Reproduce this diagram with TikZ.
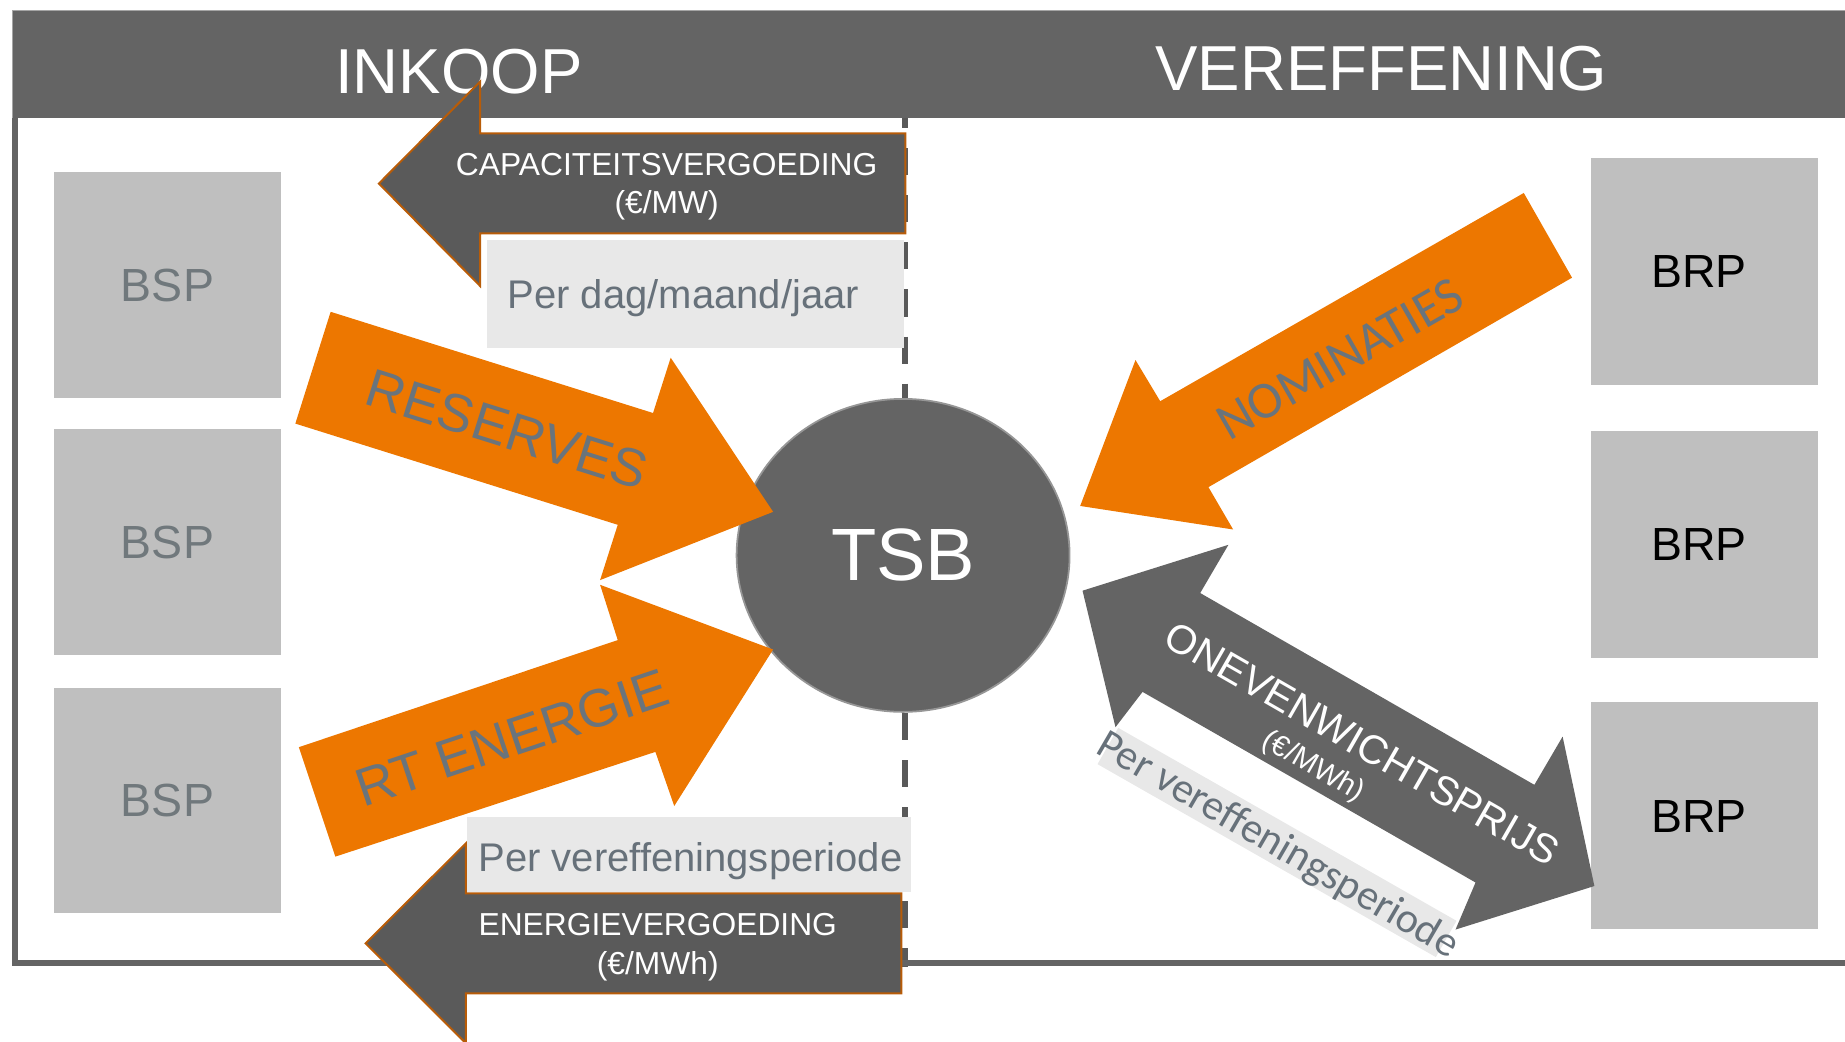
\documentclass[tikz,border=0pt]{standalone}
\usepackage{fontspec}
\setmainfont{Liberation Sans}
\newfontfamily\calibrifont{Carlito}
\usetikzlibrary{shapes.geometric}

\definecolor{hdrgray}{RGB}{100,100,100}
\definecolor{hdredge}{RGB}{165,165,165}
\definecolor{dashgray}{RGB}{89,89,89}
\definecolor{boxgray}{RGB}{191,191,191}
\definecolor{bsptext}{RGB}{112,120,124}
\definecolor{lblfill}{RGB}{232,232,232}
\definecolor{lbltext}{RGB}{103,113,122}
\definecolor{flowtext}{RGB}{106,116,124}
\definecolor{orangeA}{RGB}{237,119,0}
\definecolor{darkarrow}{RGB}{90,90,90}
\definecolor{rustedge}{RGB}{184,92,8}
\definecolor{ringgray}{RGB}{150,150,150}

\begin{document}
\begin{tikzpicture}[x=1pt,y=-1pt,
  txt/.style={inner sep=0pt, outer sep=0pt},
  hdrtxt/.style={txt, text=white, font=\fontsize{54}{60}\selectfont, anchor=base},
  bspbox/.style={fill=boxgray, minimum width=192.9pt, minimum height=192pt, inner sep=0pt,
                 text=bsptext, font=\fontsize{39.5}{44}\selectfont},
  brpbox/.style={fill=boxgray, minimum width=192.7pt, minimum height=193pt, inner sep=0pt},
  brptxt/.style={txt, text=black, font=\fontsize{39.5}{44}\selectfont},
  lblbox/.style={fill=lblfill, inner sep=0pt},
  lbltxt/.style={txt, text=lbltext, font=\fontsize{34}{39}\selectfont, anchor=base west},
  orangearrow/.style={fill=orangeA},
  payarrow/.style={fill=darkarrow, draw=rustedge, line width=1.7pt, line join=miter},
  paytxt/.style={txt, text=white, align=center, font=\fontsize{27}{32.5}\selectfont},
  flowtxt/.style={txt, text=flowtext, font=\fontsize{45.5}{50}\selectfont},
]
\useasboundingbox (0,0) rectangle (1568,885);
\clip (0,0) rectangle (1568,885);

% dashed divider between the two halves
\draw[dashgray, line width=5.5pt, dash pattern=on 23pt off 17pt] (769,86) -- (769,822);

% header bar and frame
\fill[hdrgray] (10.2,8.5) rectangle (1568,100.3);
\draw[hdredge, line width=1pt] (10.7,100) -- (10.7,9) -- (1568,9);
\draw[hdrgray, line width=5.3pt] (12.75,100) -- (12.75,818.2) -- (1568,818.2);
\node[hdrtxt] (inkoop) at (390,79.3) {INKOOP};
\node[hdrtxt] (vereff) at (1174,76.5) {VEREFFENING};

% service providers (left) and responsible parties (right)
\node[bspbox] (bsp1) at (142.35,242.45) {BSP};
\node[bspbox] (bsp2) at (142.35,460.8) {BSP};
\node[bspbox] (bsp3) at (142.35,680.3) {BSP};
\node[brpbox] (brp1) at (1448.35,230.5) {};
\node[brpbox] (brp2) at (1448.35,462.5) {};
\node[brpbox] (brp3) at (1448.35,693) {};
\node[brptxt] (brp1t) at (1444,230.9) {BRP};
\node[brptxt] (brp2t) at (1444,462.5) {BRP};
\node[brptxt] (brp3t) at (1444,694) {BRP};

% period labels
\node[lblbox, minimum width=354pt, minimum height=92pt] (perbox1) at (591,250) {};
\node[lbltxt] (pertxt1) at (431.4,262) {Per dag/maand/jaar};
\node[lblbox, minimum width=377pt, minimum height=64pt] (perbox2) at (585.5,726) {};
\node[lbltxt] (pertxt2) at (406.6,740.8) {Per vereffeningsperiode};

% system operator
\node[ellipse, fill=hdrgray, draw=ringgray, line width=1.5pt, minimum width=283pt,
      minimum height=266pt, inner sep=0pt, text=white, font=\fontsize{63}{70}\selectfont]
      (tsb) at (767.5,472) {TSB};

% flows towards the operator
\fill[orangearrow] (281,265) -- (555,351) -- (570,304) -- (657,435) -- (510,493)
   -- (525,446) -- (251,360) -- cycle;
\node[flowtxt, rotate=-17.4] (reserves) at (431,365) {RESERVES};
\fill[orangearrow] (254,635) -- (525,544) -- (510,497) -- (657,552) -- (573,685)
   -- (557,639) -- (285,728) -- cycle;
\node[flowtxt, rotate=18.5] (rtenergie) at (435,627) {RT ENERGIE};
\fill[orangearrow] (1295,164) -- (1336,236) -- (1027,414) -- (1048,450) -- (918,430)
   -- (965,306) -- (986,341) -- cycle;
\node[flowtxt, font=\calibrifont\fontsize{44.5}{50}\selectfont, rotate=29.8]
   (nominaties) at (1139,305) {NOMINATIES};

% payments back to the providers
\draw[payarrow] (322,156) -- (408,69.4) -- (408,113.3) -- (769.5,113.3) -- (769.5,198.3)
   -- (408,198.3) -- (408,243) -- cycle;
\node[paytxt] (capa) at (566.5,158.5) {CAPACITEITSVERGOEDING\\(€/MW)};
\draw[payarrow] (310.7,801.7) -- (396,716.7) -- (396,759.2) -- (766,759.2) -- (766,844.2)
   -- (396,844.2) -- (396,886.7) -- cycle;
\node[paytxt] (energie) at (559,805) {ENERGIEVERGOEDING\\(€/MWh)};

% imbalance price, both ways
\fill[hdrgray] (920,502) -- (1044,463) -- (1020,504) -- (1304,667) -- (1328,626)
   -- (1355,753) -- (1237,790) -- (1254,750) -- (971,588) -- (948,618) -- cycle;
\node[txt, text=white, font=\fontsize{34.5}{40}\selectfont, rotate=-29.85]
   (oneven) at (1158,632) {ONEVENWICHTSPRIJS};
\node[txt, text=white, font=\fontsize{25}{30}\selectfont, rotate=-29.85]
   (onevenunit) at (1116,652) {(€/MWh)};
\node[lblbox, rotate=-29.7, minimum width=331pt, minimum height=35.5pt] (perstrip) at (1085.3,716) {};
\node[txt, text=lbltext, font=\calibrifont\fontsize{36}{41}\selectfont, rotate=-30.2, anchor=base]
   (pertxt3) at (1081,727) {Per vereffeningsperiode};
\end{tikzpicture}
\end{document}
